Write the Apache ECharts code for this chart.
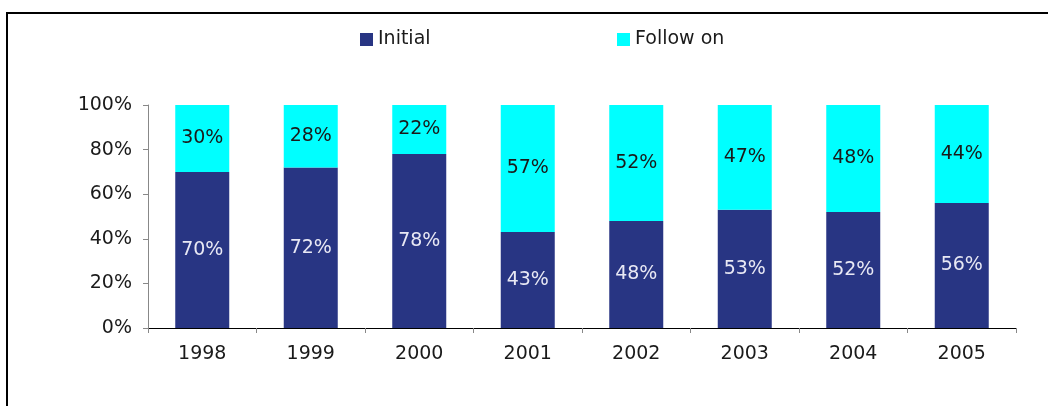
<!DOCTYPE html>
<html>
<head>
<meta charset="utf-8">
<script src="https://cdn.jsdelivr.net/npm/echarts@6/dist/echarts.min.js"></script>
<style>
  html, body { margin: 0; padding: 0; background: #fff; }
  #chart { width: 1048px; height: 406px; }
</style>
</head>
<body>
<div id="chart"></div>
<script>
// Share of investment rounds by year
const years = ['1998', '1999', '2000', '2001', '2002', '2003', '2004', '2005'];
const initial = [70, 72, 78, 43, 48, 53, 52, 56];
const followOn = [30, 28, 22, 57, 52, 47, 48, 44];
const yTicks = [0, 20, 40, 60, 80, 100];

const FONT = 'DejaVu Sans, Verdana, sans-serif';
const NAVY = '#283583';
const CYAN = '#00FFFF';
const FS = 19;

const chart = echarts.init(document.getElementById('chart'));
chart.setOption({
  animation: false,
  textStyle: { fontFamily: FONT },
  graphic: [{
    type: 'rect',
    shape: { x: 7, y: 13, width: 1200, height: 600 },
    style: { fill: 'none', stroke: '#000', lineWidth: 2 },
    silent: true
  }],
  legend: [{
    data: ['Initial'],
    left: 355, top: 25,
    icon: 'rect', itemWidth: 13, itemHeight: 13, itemGap: 0,
    textStyle: { fontFamily: FONT, fontSize: FS, color: '#1a1a1a' }
  }, {
    data: ['Follow on'],
    left: 612, top: 25,
    icon: 'rect', itemWidth: 13, itemHeight: 13, itemGap: 0,
    textStyle: { fontFamily: FONT, fontSize: FS, color: '#1a1a1a' }
  }],
  grid: { left: 148, right: 32, top: 105, bottom: 78, containLabel: false },
  xAxis: {
    type: 'category',
    data: years,
    axisLine: { lineStyle: { color: '#000', width: 1 } },
    axisTick: { show: true, length: 5, lineStyle: { color: '#888' } },
    axisLabel: { color: '#1a1a1a', fontSize: FS, margin: 17, fontFamily: FONT },
    splitLine: { show: false }
  },
  yAxis: {
    type: 'value',
    min: yTicks[0], max: yTicks[yTicks.length - 1], interval: 20,
    axisLine: { show: true, lineStyle: { color: '#888', width: 1 } },
    axisTick: { show: true, length: 5, lineStyle: { color: '#888' } },
    axisLabel: { color: '#1a1a1a', fontSize: FS, margin: 16, fontFamily: FONT, formatter: '{value}%' },
    splitLine: { show: false }
  },
  series: [{
    name: 'Initial',
    type: 'bar',
    stack: 'total',
    data: initial,
    barWidth: 54,
    itemStyle: { color: NAVY },
    label: {
      show: true, position: 'inside', formatter: '{c}%',
      color: '#e8e8f4', fontSize: FS, fontFamily: FONT
    }
  }, {
    name: 'Follow on',
    type: 'bar',
    stack: 'total',
    data: followOn,
    barWidth: 54,
    itemStyle: { color: CYAN },
    label: {
      show: true, position: 'inside', formatter: '{c}%',
      color: '#1a1a1a', fontSize: FS, fontFamily: FONT
    }
  }]
});
</script>
</body>
</html>
